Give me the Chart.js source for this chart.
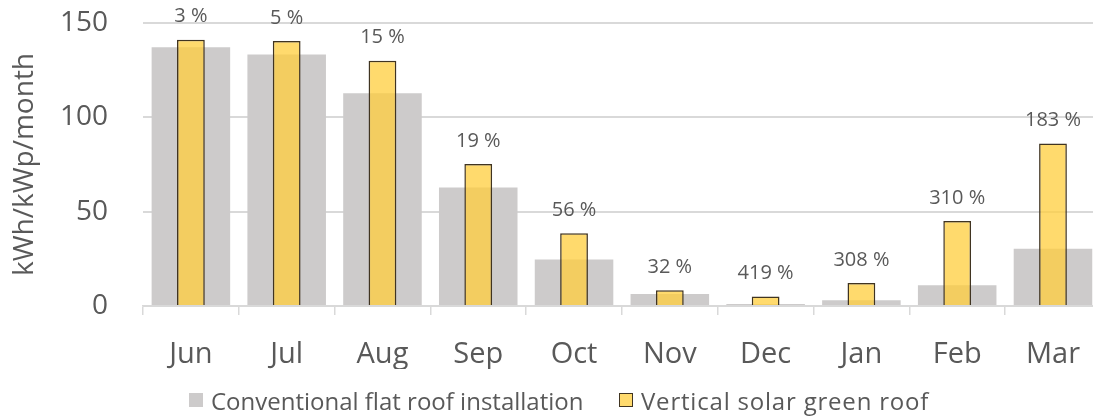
<!DOCTYPE html>
<html lang="en">
<head>
    <meta charset="UTF-8">
    <title>Monthly yield</title>
    <script src="https://cdn.jsdelivr.net/npm/chart.js"></script>
    <style>
        html, body { margin: 0; padding: 0; background: #fff; }
        body { width: 1093px; height: 417px; overflow: hidden; position: relative; font-family: 'Open Sans', sans-serif; }
        #wrap { position: absolute; left: 0; top: 0; width: 1102px; height: 417px; }
        .legend { position: absolute; top: 385px; left: 0; width: 1093px; height: 30px; color: #595959; font-size: 24px; }
        .legend .item { position: absolute; top: 0; display: flex; align-items: center; height: 30px; }
        .legend .box { width: 14px; height: 14px; margin-right: 8px; box-sizing: border-box; }
    </style>
</head>
<body>
    <div id="wrap"><canvas id="chart"></canvas></div>
    <div class="legend">
        <div class="item" style="left:189px"><span class="box" style="background:#cdcbcb"></span>Conventional flat roof installation</div>
        <div class="item" style="left:619px"><span class="box" style="background:rgba(255,205,60,0.75);border:1.5px solid #403421"></span><span style="letter-spacing:0.8px">Vertical solar green roof</span></div>
    </div>

    <script>
        const months = ['Jun', 'Jul', 'Aug', 'Sep', 'Oct', 'Nov', 'Dec', 'Jan', 'Feb', 'Mar'];
        const conventional = [137.2, 133.3, 112.7, 62.8, 24.6, 6.3, 1.0, 3.0, 11.0, 30.4];
        const verticalGreen = [141.1, 140.4, 130.0, 75.3, 38.5, 8.3, 5.1, 12.2, 45.1, 86.1];
        const gainLabels = ['3 %', '5 %', '15 %', '19 %', '56 %', '32 %', '419 %', '308 %', '310 %', '183 %'];
        const yTicks = [0, 50, 100, 150];

        const textColor = '#595959';
        const gridColor = '#d9d9d9';

        // percentage labels above the yellow bars
        const gainLabelPlugin = {
            id: 'gainLabels',
            afterDatasetsDraw(chart) {
                const meta = chart.getDatasetMeta(1);
                const ctx = chart.ctx;
                ctx.save();
                ctx.font = '20px "Open Sans", sans-serif';
                ctx.fillStyle = textColor;
                ctx.textAlign = 'center';
                ctx.textBaseline = 'middle';
                meta.data.forEach((bar, i) => {
                    ctx.fillText(gainLabels[i], bar.x, bar.y - 23);
                });
                ctx.restore();
            }
        };

        new Chart(document.getElementById('chart'), {
            type: 'bar',
            data: {
                labels: months,
                datasets: [
                    {
                        label: 'Conventional flat roof installation',
                        data: conventional,
                        backgroundColor: '#cdcbcb',
                        borderWidth: 0,
                        grouped: false,
                        barPercentage: 0.82,
                        categoryPercentage: 1,
                        order: 1
                    },
                    {
                        label: 'Vertical solar green roof',
                        data: verticalGreen,
                        backgroundColor: 'rgba(255,205,60,0.75)',
                        borderColor: '#403421',
                        borderWidth: 1.5,
                        grouped: false,
                        barPercentage: 0.29,
                        categoryPercentage: 1,
                        order: 0
                    }
                ]
            },
            options: {
                responsive: true,
                maintainAspectRatio: false,
                animation: false,
                layout: { padding: { top: 23, right: 0, left: 0, bottom: 48 } },
                scales: {
                    x: {
                        afterFit: (axis) => { axis.height = 63; },
                        grid: { drawOnChartArea: false, drawTicks: true, tickLength: 9, color: gridColor, lineWidth: 1.5 },
                        border: { color: gridColor, width: 1.5 },
                        ticks: { color: textColor, font: { family: 'Open Sans', size: 29 }, padding: 22 }
                    },
                    y: {
                        min: 0,
                        max: 150,
                        afterBuildTicks: (axis) => { axis.ticks = yTicks.map(v => ({ value: v })); },
                        afterFit: (axis) => { axis.width = 143; axis.paddingTop = 0; axis.paddingBottom = 0; },
                        grid: { color: gridColor, lineWidth: 2, drawTicks: false },
                        border: { display: false },
                        ticks: { color: textColor, font: { family: 'Open Sans', size: 28 }, padding: 35 },
                        title: {
                            display: true,
                            text: 'kWh/kWp/month',
                            color: textColor,
                            font: { family: 'Open Sans', size: 28 },
                            padding: { top: 8, bottom: 0 }
                        }
                    }
                },
                plugins: {
                    legend: { display: false },
                    tooltip: { enabled: false }
                }
            },
            plugins: [gainLabelPlugin]
        });
    </script>
</body>
</html>
